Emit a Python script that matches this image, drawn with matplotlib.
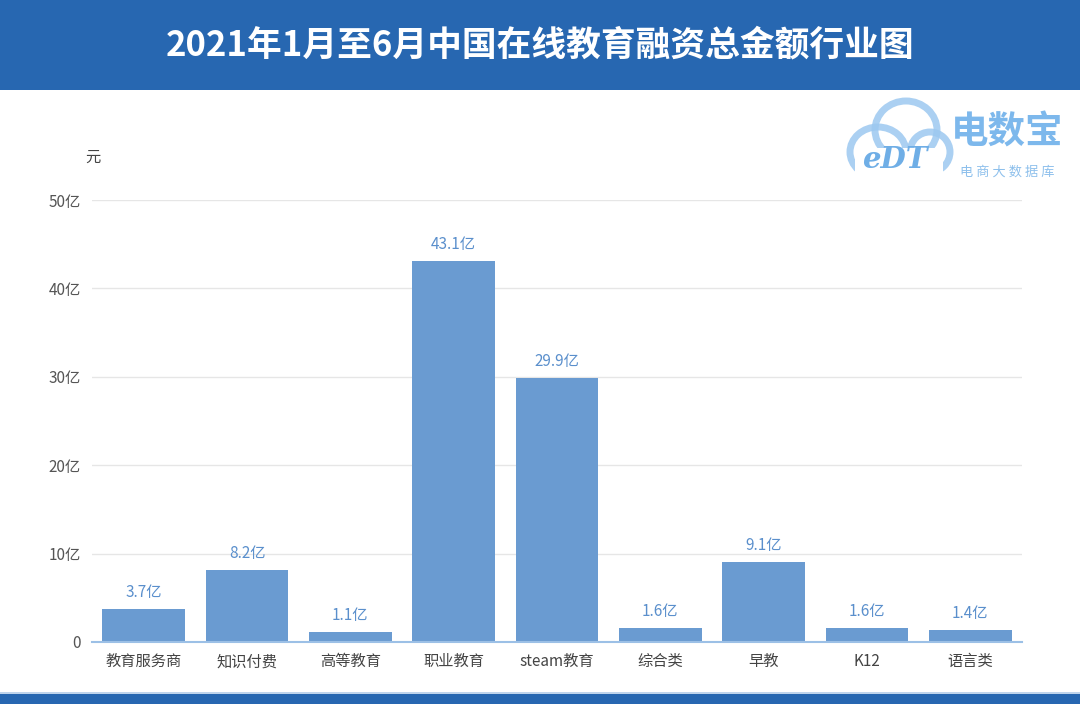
import matplotlib
matplotlib.use("Agg")
import matplotlib.pyplot as plt
from matplotlib.patches import Rectangle, Ellipse

plt.rcParams['font.family'] = ['Noto Sans CJK SC', 'DejaVu Sans']

categories = ["教育服务商", "知识付费", "高等教育", "职业教育", "steam教育", "综合类", "早教", "K12", "语言类"]
values = [3.7, 8.2, 1.1, 43.1, 29.9, 1.6, 9.1, 1.6, 1.4]
yticks = [0, 10, 20, 30, 40, 50]
ytick_labels = ["0", "10亿", "20亿", "30亿", "40亿", "50亿"]
title = "2021年1月至6月中国在线教育融资总金额行业图"

W, H = 1080, 704
fig = plt.figure(figsize=(W / 100, H / 100), dpi=100)
fig.patch.set_facecolor("white")

# header band
fig.add_artist(Rectangle((0, 1 - 90 / H), 1, 90 / H, transform=fig.transFigure,
                         facecolor="#2767B1", edgecolor="none", zorder=0))
fig.text(0.5, 1 - 45 / H, title, color="white", fontsize=25, fontweight="bold",
         ha="center", va="center")
# footer band
fig.add_artist(Rectangle((0, 0), 1, 10 / H, transform=fig.transFigure,
                         facecolor="#2767B1", edgecolor="none", zorder=0))
fig.add_artist(Rectangle((0, 10 / H), 1, 2 / H, transform=fig.transFigure,
                         facecolor="#BFD4EC", edgecolor="none", zorder=0))

ax = fig.add_axes([92 / W, 1 - 642 / H, 930 / W, 442 / H])
x = list(range(len(categories)))
ax.bar(x, values, width=0.8, color="#6A9BD1", zorder=2)
for xi, v in zip(x, values):
    ax.text(xi, v + 0.9, f"{v}亿", ha="center", va="bottom", color="#5A8FCC", fontsize=11)

ax.set_xlim(-0.5, len(categories) - 0.5)
ax.set_ylim(0, 50)
ax.set_yticks(yticks)
ax.set_yticklabels(ytick_labels, color="#555555", fontsize=11)
ax.set_xticks(x)
ax.set_xticklabels(categories, color="#444444", fontsize=11)
ax.tick_params(axis="both", length=0, pad=8)
for s in ["top", "right", "left"]:
    ax.spines[s].set_visible(False)
ax.spines["bottom"].set_color("#9CC0E6")
ax.spines["bottom"].set_linewidth(1.5)
ax.yaxis.grid(True, color="#E6E6E6", linewidth=1, zorder=0)
ax.set_axisbelow(True)

fig.text(93 / W, 1 - 157 / H, "元", color="#444444", fontsize=11, ha="center", va="center")

# logo approximation
logo_col = "#9CC8F0"
for (cx, cy, w, h) in [(878, 152, 56, 50), (906, 130, 62, 58), (930, 152, 40, 40)]:
    fig.add_artist(Ellipse((cx / W, 1 - cy / H), w / W, h / H, transform=fig.transFigure,
                           facecolor="none", edgecolor=logo_col, linewidth=5, alpha=0.85, zorder=1))
fig.add_artist(Rectangle((855 / W, 1 - 186 / H), 88 / W, 38 / H, transform=fig.transFigure,
                         facecolor="white", edgecolor="none", zorder=1))
fig.text(895 / W, 1 - 160 / H, "eDT", color="#6FAEE6", fontsize=21, fontweight="bold",
         ha="center", va="center", family="DejaVu Serif", style="italic", zorder=2)
fig.text(1007 / W, 1 - 132 / H, "电数宝", color="#7DB8EC", fontsize=27, fontweight="bold",
         ha="center", va="center", zorder=2)
fig.text(1007 / W, 1 - 172 / H, "电 商 大 数 据 库", color="#8EC0EC", fontsize=9.5,
         ha="center", va="center", zorder=2)

fig.savefig("out.png", dpi=100)
